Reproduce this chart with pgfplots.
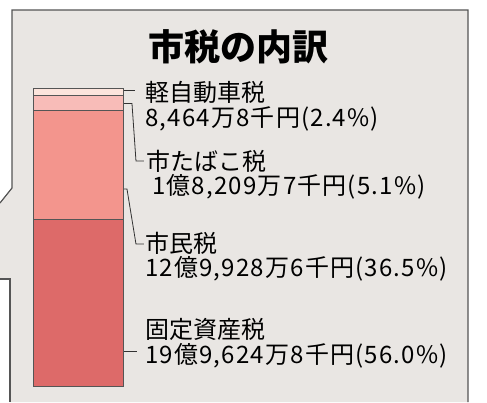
\documentclass[border=0pt]{standalone}
\usepackage{pgfplots}
\pgfplotsset{compat=1.18}
\usepackage{fontspec}
\setmainfont{Noto Sans CJK JP}
\newfontfamily\numfont[LetterSpace=5]{Noto Sans CJK JP}
\definecolor{panel}{RGB}{233,230,227}
\definecolor{cA}{RGB}{252,228,220}
\definecolor{cB}{RGB}{248,188,184}
\definecolor{cC}{RGB}{243,149,141}
\definecolor{cD}{RGB}{221,106,105}
\definecolor{edge}{RGB}{85,85,85}
\definecolor{lead}{RGB}{50,50,50}
\begin{document}
\begin{tikzpicture}
\useasboundingbox (0pt,0pt) rectangle (487pt,-402pt);
\fill[white] (0pt,0pt) rectangle (487pt,-402pt);
\fill[panel] (12pt,-10pt) -- (468pt,-10pt) -- (468pt,-402pt) -- (10pt,-402pt) -- (10pt,-279pt) -- (0pt,-279pt) -- (0pt,-203pt) -- (12pt,-188pt) -- cycle;
\draw[edge, line width=1.2pt] (0pt,-203pt) -- (12pt,-188pt) -- (12pt,-10pt) -- (468pt,-10pt) -- (468pt,-402pt);
\draw[edge, line width=1.2pt] (0pt,-279pt) -- (10pt,-279pt) -- (10pt,-402pt);
\begin{axis}[
  at={(33pt,-386pt)}, anchor=south west,
  scale only axis, width=90pt, height=298pt,
  xmin=-0.5, xmax=0.5, ymin=0, ymax=100,
  hide axis, clip=false,
  ybar stacked, bar width=90pt,
  every axis plot/.append style={draw=edge, line width=1pt},
]
\addplot[fill=cD] coordinates {(0,56.0)};
\addplot[fill=cC] coordinates {(0,36.5)};
\addplot[fill=cB] coordinates {(0,5.1)};
\addplot[fill=cA] coordinates {(0,2.4)};
\draw[lead, line width=0.8pt] (axis cs:0.322,99.2) -- ++(28pt,0pt);
\draw[lead, line width=0.8pt] (axis cs:0.322,94.8) -- ++(25pt,0pt) -- ++(4pt,-57.5pt) -- ++(8pt,0pt);
\draw[lead, line width=0.8pt] (axis cs:0.322,66.1) -- ++(20pt,0pt) -- ++(9pt,-55pt) -- ++(8pt,0pt);
\draw[lead, line width=0.8pt] (axis cs:0.322,11.7) -- ++(30pt,0pt);
\end{axis}
\node[anchor=base, inner sep=0pt, font=\fontsize{36pt}{36pt}\selectfont\bfseries] at (238pt,-60pt) {市税の内訳};
\begin{scope}[every node/.style={anchor=base west, inner sep=0pt, font=\fontsize{24pt}{24pt}\selectfont}]
\node at (145pt,-101pt) {軽自動車税};
\node at (145pt,-126.5pt) {\numfont 8,464万8千円(2.4\%)};
\node at (146pt,-170.5pt) {市たばこ税};
\node at (152pt,-194pt) {\numfont 1億8,209万7千円(5.1\%)};
\node at (145pt,-252pt) {市民税};
\node at (145pt,-276pt) {\numfont 12億9,928万6千円(36.5\%)};
\node at (145pt,-338.5pt) {固定資産税};
\node at (145pt,-363pt) {\numfont 19億9,624万8千円(56.0\%)};
\end{scope}
\end{tikzpicture}
\end{document}
